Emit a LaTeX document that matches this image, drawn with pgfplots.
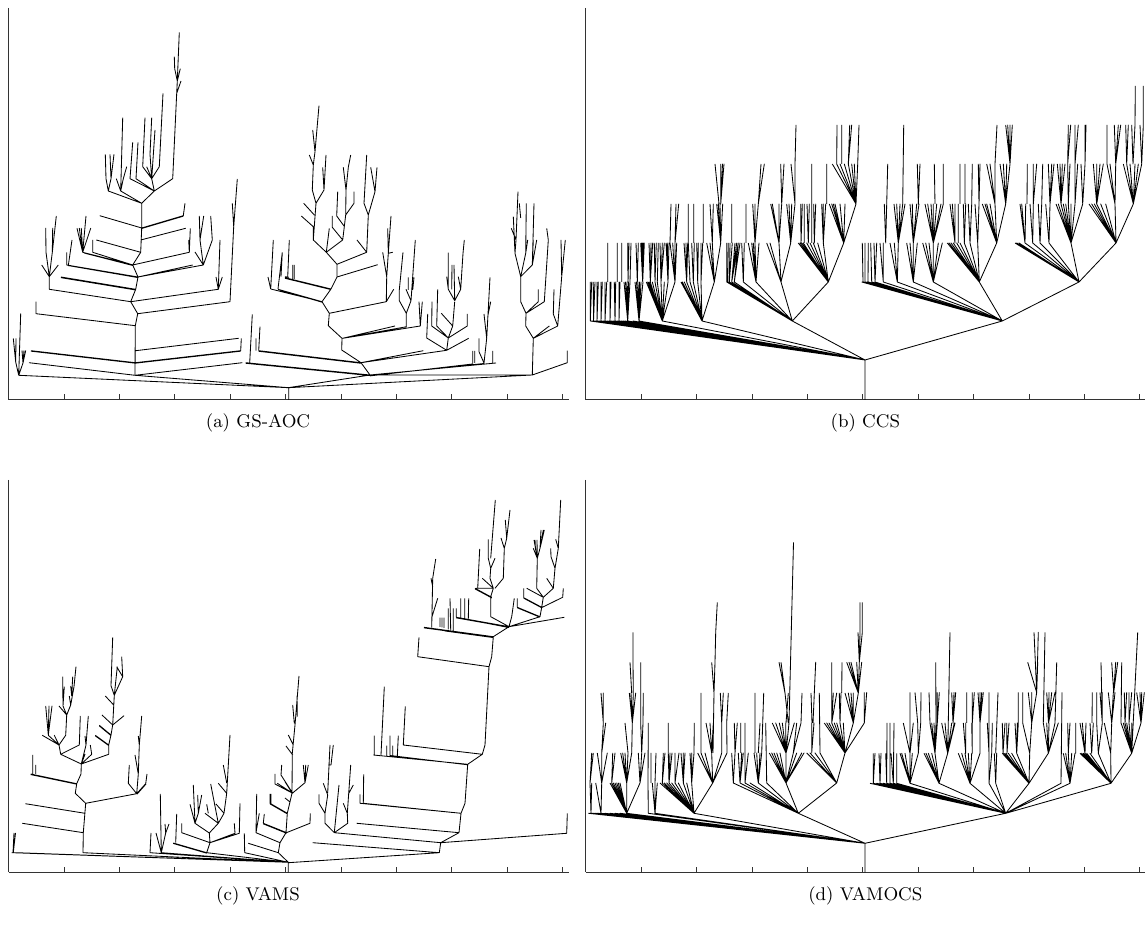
\documentclass[border=0pt]{standalone}
\usepackage{pgfplots}
\pgfplotsset{compat=1.18}
\def\D{}
\newcommand\Pl[1]{\xdef\D{\D #1(nan,nan)}}
\newcommand\F[4]{\foreach \t in {#4}{\xdef\D{\D(\t,#3)(#1,#2)}}\xdef\D{\D(nan,nan)}}
% ---------- (a) GS-AOC
\Pl{(288.7,400)(288.7,387.7)(18.7,375.3)}
\Pl{(288.7,387.7)(135,375.3)}
\Pl{(18.7,375.3)(15.7,362)(13.3,338.5)}\Pl{(15.7,362)(16,338.5)}\Pl{(18.7,375.3)(20.7,313.5)}
\Pl{(18.7,375.3)(23,363)(22,350.5)}\Pl{(23,363)(24,350.5)}\Pl{(23,363)(25.7,350.5)}
\Pl{(29,362.7)(135,375.3)(242.3,362.7)}\Pl{(31,350.7)(135.3,362.7)(240.7,350.7)(241.3,338.3)}
\Pl{(31,351.2)(135.3,363.2)(240.7,351.2)}
\Pl{(135.7,350.7)(238.7,338.3)}
\Pl{(135,375.3)(135.3,325.7)(137.7,313.7)(130.7,301.7)(135.7,289.3)(138,277)(132.7,265)(140.7,252.3)(141.7,228)(141.7,203.3)}
\Pl{(36,301.7)(36,313.7)(135.3,325.7)}
\Pl{(137.7,313.7)(230,301.7)(233.7,226.7)(232.3,203.3)}\Pl{(233.7,226.7)(237.3,179)}
\Pl{(130.7,301.7)(49.3,289.3)(49.3,276.7)(41.7,265)}\Pl{(49.3,276.7)(58.3,265)}
\Pl{(49.3,276.7)(46,252.3)(45.7,228)}\Pl{(49.3,276.7)(52.3,252.3)(56.3,216)}\Pl{(52.3,252.3)(52.7,228)}
\Pl{(130.7,301.7)(218.3,289.3)(216,277)}\Pl{(218.3,289.3)(222.3,277)}\Pl{(218.3,289.3)(220,240)}
\Pl{(135.7,289.3)(61,277)}\Pl{(135.7,290)(61,277.7)}
\Pl{(138,277)(66.7,265)(66.7,252.3)}\Pl{(138,277.6)(68.3,265.6)(72,240)}
\F{82.7}{252.3}{228.3}{77,79.3,81.3,90.7}\Pl{(82.7,252.3)(86,216)}
\Pl{(132.7,265)(82.7,252.3)}\Pl{(132.7,265)(92.7,252.3)(92.7,240)}\Pl{(132.7,265.5)(84,253)}
\Pl{(140.7,252.3)(96.3,240)}
\Pl{(138,277)(203.3,265)(195,252)}\Pl{(138,277)(192.7,265)}
\Pl{(203.3,265)(200,240)(199.3,216)}\Pl{(200,240)(203.7,216)}\Pl{(200,240)(201.7,228)}
\Pl{(203.3,265)(212.3,240)(210.7,216)}
\Pl{(132.7,265)(189.3,252.3)(190.3,228.3)}\Pl{(189.3,252.3)(188.7,240)}
\Pl{(140.7,240)(185.7,228.3)}
\Pl{(141.7,228)(183.3,215.7)(185,203.3)}\Pl{(141.7,228.5)(183.3,216.2)}
\Pl{(141.7,228)(99.7,215.7)}
\F{141.7}{203.3}{191}{108.3,120.7,154.3}
\Pl{(108.3,191)(106,178.7)(105.3,154.3)}\Pl{(108.3,191)(111,178.7)(114,154.3)}\Pl{(111,178.7)(110,154.3)}
\Pl{(120.7,191)(116.3,178.7)}\Pl{(120.7,191)(122.7,117.7)}\Pl{(120.7,191)(123.3,178.7)(126.7,166.7)}
\Pl{(154.3,191)(130,178.7)(132.7,142.3)}\Pl{(154.3,191)(136,178.7)(138,142.3)}
\Pl{(154.3,191)(151.7,178.7)(142.7,166.7)(145,117.7)}\Pl{(151.7,178.7)(146.7,166.7)}
\Pl{(151.7,178.7)(150,154.3)(151.7,117.7)}\Pl{(151.7,178.7)(155,130)}\Pl{(151.7,178.7)(159.3,166.7)(163,93.3)}
\Pl{(154.3,191)(172.7,178.7)(176.7,93.3)(181,81)}\Pl{(176.7,93.3)(177.3,81)(179.3,32.3)}
\Pl{(177.3,81)(174.7,68.7)(174.3,56.7)}\Pl{(177.3,81)(180.3,68.7)}
% right half of a
\Pl{(288.3,387.7)(370,375)(532.3,375)}\Pl{(288.3,387.7)(532.3,375)}
\Pl{(370,375)(245.7,362.7)}\Pl{(370,375.6)(245.7,363.3)}
\Pl{(361,362.7)(258.7,350.7)}\Pl{(361,363.3)(258.7,351.3)}
\Pl{(249.7,362.7)(252.3,314.3)}\Pl{(256,350.7)(256,338.3)}\Pl{(258.7,350.7)(260,326.7)}
\Pl{(270.7,289)(268,277)}\Pl{(270.7,289)(273.3,240)}\Pl{(278,289)(282.3,252.3)}
\Pl{(285,276.7)(289,277.3)}\Pl{(289.3,240)(287.7,277)}
\Pl{(270.7,289)(322,301.7)}\Pl{(278,289.3)(322,301.7)}\Pl{(280,290)(322,302.2)}
\Pl{(285,277.7)(331,289)}\Pl{(285,278.3)(331,289.6)}
\Pl{(292.7,279)(292.7,265)}\Pl{(294.2,279)(294.2,265)}\Pl{(282.3,252.3)(281,276.7)}
\Pl{(370,375)(361,362.7)(341.7,350)(342,338.3)(328.3,325.7)(329.3,313.3)(322,301.7)(331,289)(337,277)(337,264.3)(326.3,252.3)(313.3,240)(313.3,226.7)(301.3,216)}
\Pl{(314.3,215)(303.7,203.3)}\Pl{(313.3,240)(316,203.3)(324,190)(326,155)}\Pl{(324,190)(322.7,167.3)}
\Pl{(316,203.3)(312.3,190)(313.3,165)(309.3,155)}\Pl{(313.3,165)(315,151.7)(319,105.7)}\Pl{(315,151.7)(312.7,130)}
\Pl{(326.3,252.3)(329.3,228.3)}\Pl{(326.3,252.3)(342.7,240)(332.3,227.3)(332.3,216)}
\Pl{(342.7,240)(345.7,215)(354,203.3)(354,191.7)}\Pl{(345.7,215)(346,190)(343.3,167.3)}\Pl{(346,190)(348.3,167.3)(350.7,155)}
\Pl{(344,226)(336.7,216)(337.7,191.7)}
\Pl{(337,264.3)(366.7,252.3)(368.3,215)(364,203.3)(366.7,155)}\Pl{(368.3,215)(375,191.7)(370.7,167.3)}\Pl{(375,191.7)(377,167.3)}
\Pl{(366.7,252.3)(357,240)}\Pl{(337,277)(377.7,264.7)}
\Pl{(329.3,313.3)(386.3,301.7)(386.7,276.7)(382.7,252.3)}\Pl{(386.7,276.7)(388.3,253.3)(391,216)}\Pl{(388.3,253.3)(387.7,228.3)}
\Pl{(388.3,253.3)(392.7,252.3)}\Pl{(386.3,301.7)(393.7,289.3)}
\Pl{(342.7,338.3)(395,326)}\Pl{(342.7,338.3)(406.7,326.7)}\Pl{(342.7,338.3)(420.3,326)(422.3,301.7)}\Pl{(420.3,326)(419,301.7)}
\Pl{(406.3,326.7)(406.3,313.3)(399.3,300.7)(399.3,290)(403,252.3)}
\Pl{(406.3,313.3)(411,300.7)(415.3,240)}\Pl{(411,300.7)(406,289.3)}\Pl{(408.3,290)(408.3,277.3)}\Pl{(412.7,290)(414,277.3)}
\Pl{(361,362.7)(446.7,350.3)(468.7,338.3)}\Pl{(361,362.7)(423.3,350.7)}
\Pl{(446.7,350.3)(426.7,338)(427.7,314)}\Pl{(446.7,350.3)(448.3,338)}
\Pl{(448.3,338)(431.7,326)(432,301.7)}\Pl{(448.3,338)(436.7,326)(437.7,289.3)}
\Pl{(448.3,338)(452.7,326)(441.3,313.3)}\Pl{(452.7,326)(454.7,301.7)}
\Pl{(448.3,338)(467.3,326)(467.3,314)}
\Pl{(454.7,300.7)(448.3,289.3)(448.3,252.7)}\Pl{(451.7,289.3)(452,265)}\Pl{(454.7,300.7)(454,265)}
\Pl{(454.7,300.7)(460.7,289.3)(458.3,276.7)}\Pl{(460.7,289.3)(463,253.3)(464.3,240)}\Pl{(446.7,276.7)(448.3,289.3)}
\Pl{(370,375)(496,363)}\Pl{(370,375.5)(484,363.5)}\Pl{(370,375.9)(472.7,364)}
\Pl{(472.7,363.3)(472.7,351)}\Pl{(474.7,363)(474.7,351)}\Pl{(484,363)(479,351.7)(479,338.3)}
\Pl{(484,363)(486.7,338.3)(484,314)}\Pl{(486.7,338.3)(490,277.3)}\Pl{(488,315)(490.7,301.7)}\Pl{(492.7,363)(492.7,351)}
\Pl{(532.3,375)(567.3,362.7)(567.3,350.7)}\Pl{(532.3,375)(533.3,338.3)(549.3,326)}
\Pl{(533.3,338.3)(557.7,326)(553.3,314)(554,289.3)}\Pl{(557.7,326)(561.7,276.7)(561,240)}\Pl{(561.7,276.7)(565.3,240)}
\Pl{(533.3,338.3)(525.7,326)(526,313.3)(520.7,301.7)(520.7,276.7)(515,253.3)(516,240)(511.3,228.3)}
\Pl{(516,240)(518,191.7)}\Pl{(515,253.3)(513.3,216.7)}\Pl{(520.7,276.7)(525.7,253.3)(526.3,203.3)}\Pl{(525.7,253.3)(527.7,240)}
\Pl{(520.7,276.7)(532.3,265)(534,203.3)}\Pl{(532.3,265)(533.3,240)}\Pl{(532.3,265)(536.7,240)}\Pl{(520.7,218)(519.3,203.3)}
\Pl{(526,313.3)(544.3,301.7)(548.3,240)(546.7,228.3)}\Pl{(526,313.3)(538.3,301.7)(538.3,289.3)}
\let\Da\D \gdef\D{}
% ---------- (b) CCS
\Pl{(865,400)(865,360)}
\F{865}{360}{321}{590.3,592,593.5,595,597,599,601,603,605,607,609,611,613,615,617,619,621,623,625,627.7,633,639,662.3,702,792.3,1002.3}
\F{590.3}{321}{282}{590.3,591.7}\F{593.5}{321}{282}{593.3,595}\F{597}{321}{282}{597,598.3}\F{601}{321}{282}{601,602.3}
\F{605}{321}{282}{605,606.7}\F{610}{321}{282}{610,611}\F{615}{321}{282}{614.3,615.7}\F{619}{321}{282}{619,620}
\F{627.7}{321}{282}{624,625.5,627,628.5,630}\F{639}{321}{282}{635,636.5,638,639.5,641,643}
\F{607.7}{282}{243}{607.7}\F{617.3}{282}{243}{617.3}\F{621.7}{282}{243}{621.7}\F{628}{282}{243}{627.7,629}\F{630}{282}{243}{631}
\F{642.7}{282}{243}{640.7,641.7,642.7,643.7,644.3}\F{637.3}{282}{243}{636,638.3}
\F{662.3}{321}{282}{646.3,647.7,649,650.3,652.3,655,657.3,661,664.3,668,675}
\F{650.3}{282}{243}{649,651,652.7}\F{655}{282}{243}{654.3,656.3}\F{657.3}{282}{243}{658.3}\F{661}{282}{243}{660,662.3,664.3}
\F{668}{282}{243}{666,667.3,669}\F{675}{282}{243}{670,672.7,675,676.7}
\F{670}{243}{204}{671}\F{675}{243}{204}{676,678.7}
\F{702}{321}{282}{681,682.3,684.3,686.7,690,693.3,697.7,701,714.3}
\F{686.7}{282}{243}{684,686,687.7}\F{690}{282}{243}{688.3}\F{693.3}{282}{243}{691.7,694.3}\F{697.7}{282}{243}{696.7,698.3}
\F{701}{282}{243}{701,702.7}\F{714.3}{282}{243}{706.7,710,712.3,720.7}
\F{688.3}{243}{204}{688.3}\F{693.7}{243}{204}{693.7}\F{703.3}{243}{204}{703.3}\F{712.3}{243}{204}{710,713.3}
\F{720.7}{243}{204}{716.7,718.3,720,722.7}\F{719}{204}{164}{715}\F{720.7}{204}{164}{720.7,722.5,724}
\F{792.3}{321}{282}{726.7,727.7,729.3,731.7,734.3,743.3,756,781,828.3}
\F{726.7}{282}{243}{726.7}\F{727.7}{282}{243}{728.3}\F{729.3}{282}{243}{730,732.3}\F{731.7}{282}{243}{735,736.7,738.3}
\F{734.3}{282}{243}{738.3,740}\F{743.3}{282}{243}{741.7,744.3}\F{756}{282}{243}{748.3,751.7,753.3,755,759}
\F{781}{282}{243}{766.7,770,779,790.7}
\F{828.3}{282}{243}{798.3,800,801.7,803.3,806.7,810,813.3,817.7,823.3,843.7}
\F{731.7}{243}{204}{731.7}\F{746}{243}{204}{746}\F{755}{243}{204}{752.7,755,758.3}\F{779}{243}{204}{770.7,772.3,779,781.7}
\F{790.7}{243}{204}{786.7,789,791.7,795}\F{801}{243}{204}{800.7,802.3}\F{804.3}{243}{204}{804.3}\F{808.3}{243}{204}{807,809.3}
\F{814.3}{243}{204}{813.7,815.7}\F{823.3}{243}{204}{821.7,823.3,825.7}\F{843.7}{243}{204}{829.3,831.7,833.3,835,840,845,856}
\F{758.3}{204}{164}{761,764.3}\F{781.7}{204}{164}{780.7,784}\F{795}{204}{164}{791,795}\F{811.7}{243}{164}{811.7}\F{826.7}{204}{164}{826.7}
\F{856}{204}{164}{832.3,836.7,840,844.3,848.3,851.7,854.3,857.7}
\F{795}{164}{125}{796}\F{836.7}{164}{125}{837}\F{841.7}{164}{125}{841.7}\F{848.3}{164}{125}{849.7,851.7}\F{857.7}{164}{125}{859}
\F{1002.3}{321}{282}{861.7,863.3,865,866.7,868.3,871.7,875,883.3,897.3,913.3,933.3,979.3,1079}
\F{863}{282}{243}{862.3}\F{865}{282}{243}{865}\F{868}{282}{243}{868.3}\F{871.7}{282}{243}{870.7}\F{875}{282}{243}{874,876.7}
\F{883.3}{282}{243}{880,883.3}\F{897.3}{282}{243}{890,894.3,898.3}\F{913.3}{282}{243}{906.7,910,913.3,917.3}
\F{933.3}{282}{243}{922.7,925.7,929,933.3,938.3,942.3}
\F{979.3}{282}{243}{947.3,949,951,953.3,956.7,960,964.3,970,977.7,996.7}
\F{1079}{282}{243}{1015,1016.7,1019,1025,1032.7,1040,1049,1071,1116}
\F{885.7}{243}{204}{884.3,886.7}\F{898.3}{243}{204}{894,896.7,900,902.7,905}\F{913.3}{243}{204}{910,912.3,916.7,919}
\F{933.3}{243}{204}{925,927.7,931,933.3,936.7,941,943.3}\F{955}{243}{204}{950,952.3,955}\F{958.3}{243}{204}{958.3}
\F{964.3}{243}{204}{963.3,965.7}\F{970}{243}{204}{968.3,971.7}\F{977.7}{243}{204}{975,979}
\F{996.7}{243}{204}{982.3,985,986.7,990,995,1005.7}
\F{1025}{243}{204}{1020,1021.7,1025.7}\F{1032.7}{243}{204}{1030,1033.3}\F{1040}{243}{204}{1038.3,1041.7}\F{1049}{243}{204}{1045.7,1050}
\F{1071}{243}{204}{1056,1058.3,1061,1063.3,1065.7,1068.3,1071,1075,1082.7}
\F{1116}{243}{204}{1089,1091.7,1094.3,1096.7,1100.7,1105.7,1115,1133.3}
\F{886.7}{204}{164}{887.7}\F{902.7}{204}{125}{903.7}\F{918.3}{204}{164}{917.3,920}\F{935}{204}{164}{934.3}\F{943.3}{204}{164}{943.3}
\F{960}{204}{164}{960}\F{965}{204}{164}{965}\F{971.7}{204}{164}{972.3}\F{979}{204}{164}{978.3,980}
\F{995}{204}{164}{986.7,990,995}\F{1005.7}{204}{164}{1000,1003.3,1006.7,1010}\F{995}{164}{125}{997}\F{1010}{164}{125}{1005.7,1007.7,1010,1012.3}
\F{1027}{204}{164}{1027.3}\F{1033.3}{204}{164}{1033.3,1036.7}\F{1041.7}{204}{164}{1042.7}\F{1050}{204}{164}{1048.3,1051.7,1054}
\F{1061}{204}{164}{1057.3,1060,1062.3,1065}\F{1068.3}{204}{164}{1067.7,1070}\F{1075}{204}{164}{1075,1077.7}\F{1082.7}{204}{164}{1081,1085}
\F{1096.7}{204}{164}{1093.3,1096.7,1100,1103.3}\F{1115}{204}{164}{1107,1110,1115.7}
\F{1133.3}{204}{164}{1123.3,1126.7,1130,1135,1138.3,1141.7}
\F{1067.7}{164}{125}{1068.3,1070.7}\F{1075}{164}{125}{1075,1078.3}\F{1085}{164}{125}{1085,1086}\F{1107}{164}{125}{1107}
\F{1115.7}{164}{125}{1114.3,1118.3,1120.7}\F{1126.7}{164}{125}{1125.7,1128.3}\F{1133}{164}{125}{1131.7,1135}\F{1141.7}{164}{125}{1140,1143.3}
\F{1135}{125}{86}{1135.3}\F{1143.3}{125}{86}{1143.3}
\let\Db\D \gdef\D{}
% ---------- (c) VAMS
\Pl{(288.3,872.5)(288.3,862.3)}
\F{288.3}{862.3}{852.7}{11.7,13.3,16.7,83,150,161.3,206.7,244.7,278.3}
\Pl{(13,852.7)(14,833)}\Pl{(13.3,852.7)(15.5,833)}
\Pl{(83,852.7)(83.3,832.7)(85.7,803.3)(75.3,793.3)(76.7,783.7)(81,774)(81.3,764)}
\Pl{(83.3,832.7)(22.3,823.3)}\Pl{(85,813.3)(25.3,803.7)}
\Pl{(85.7,803.3)(136.7,793.7)(128.3,783.3)(129.3,765)}\Pl{(136.7,793.7)(138.3,774)(135,755)}\Pl{(138.3,774)(139.3,745)(141.7,716)}\Pl{(139.3,745)(138.3,736)}
\Pl{(136.7,793.7)(145.7,783.7)(147,774)}\Pl{(137.2,794)(146,784)}
\Pl{(76.7,783.7)(30.7,774)}\Pl{(76.7,784.2)(30.7,774.6)}\Pl{(32.7,774)(32.7,755)}\Pl{(35.7,774)(35.7,765)}
\F{81.3}{764}{754.3}{60.7,85,91.7,108.7}
\Pl{(81.3,764)(86,745)(85,736)}\Pl{(86,745)(88.3,716)}\Pl{(91.7,754.3)(90.3,745)}
\Pl{(60.7,754.3)(59,745)}\Pl{(60.7,754.3)(79.3,745)(80.3,716)}
\F{59}{745}{735.3}{42.3,54.3,48.3}\Pl{(59,745)(65.7,735.3)(66.7,715)}
\F{48.3}{735}{706}{45.7,49,52}
\Pl{(66.7,715)(59,706)}\Pl{(66.7,715)(70.7,705)(69.3,696)}\Pl{(70.7,705)(74,686.7)(76,666.7)}\Pl{(71.7,696)(72.7,676.7)}\Pl{(71.7,696)(70.7,686)}
\Pl{(66.7,715)(63,706)(62.7,676.7)}\Pl{(63,706)(64.3,686.7)}
\Pl{(108.7,754.3)(108.7,745)(111,735)(112.7,725)(114.3,695.3)}\Pl{(108.7,745)(95.3,735.3)}\Pl{(108.7,745.5)(95.3,735.9)}
\Pl{(111,735)(99.3,725.3)}\Pl{(111,735.6)(99.3,725.9)}\Pl{(112.7,725)(102,715)}\Pl{(112.7,725)(124,715.7)}\Pl{(113.7,705)(105.3,696)}
\Pl{(114.3,695.3)(111,685.7)(112.7,637.3)}\Pl{(114.3,695.3)(122.7,676.7)(121.7,656.7)}\Pl{(122.7,676.7)(116.7,666.7)}\Pl{(114.3,695.3)(117.3,666.7)}
\Pl{(150,852.7)(151,833)}\Pl{(161.3,852.7)(160.3,794)}\Pl{(161.3,852.7)(156,833)}\Pl{(161.3,852.7)(165.7,833)(165,824)}\Pl{(165.7,833)(169,824)}
\Pl{(206.7,852.7)(210,842.7)}\Pl{(206.7,852.7)(173.3,843)}\Pl{(206.7,853.2)(173.3,843.5)}\Pl{(175.7,842.7)(176.7,814)}
\Pl{(210,842.7)(181.7,832.7)(181.7,823.3)}
\Pl{(210,842.7)(209.3,833)(195,823.3)(190,804.3)}\Pl{(195,823.3)(193.3,785)}\Pl{(195,823.3)(198.3,813.3)(197.7,795)}\Pl{(198.3,813.3)(201.7,795)}
\Pl{(209.3,833)(218.3,823.3)(205,813.3)}\Pl{(218.3,823.3)(210.7,784)}\Pl{(218.3,823.3)(224,813.3)(216,804)}
\Pl{(224,813.3)(226.7,793.3)(218.3,783.3)}\Pl{(226.7,793.3)(230,735)}\Pl{(226.7,783)(223.3,765)}\Pl{(208.3,813.3)(206.7,804.3)}
\Pl{(210,842.7)(235,833.3)(234.3,823.3)}\Pl{(210,842.7)(239.3,833.3)(240,803.3)}
\Pl{(244.7,852.7)(244.3,833.3)}\Pl{(278.3,852.7)(248.3,843.3)}
\Pl{(278.3,852.7)(280,842.7)(286,832.7)(287.3,813.3)(292,793.3)(292.3,753.3)(295,725)(299,676)}
\Pl{(280,842.7)(256,832.7)(256.7,794)}\Pl{(256,832.7)(259.3,813.3)}
\Pl{(286.7,832.7)(263.3,823.3)(264.3,814)}\Pl{(286.7,833.3)(263.3,823.9)}
\Pl{(287.3,813.3)(270,803.3)(270,794)}\Pl{(287.3,813.9)(270,803.9)}\Pl{(271,804)(271,794)}
\Pl{(292.7,793.3)(275,784)(275,774)}\Pl{(292.7,793.3)(277.3,783.3)}
\Pl{(281.7,765)(281,775)(292.7,793.3)}\Pl{(286,746)(292.7,755)}\Pl{(288.3,735)(293.3,745)}
\Pl{(294.3,723.3)(292.7,705)}\Pl{(297.3,716.7)(297,696)}
\Pl{(292.3,793.3)(305,782.7)(303.3,765)}\Pl{(305,782.7)(305.7,765)}\Pl{(305,782.7)(308.3,765)}\Pl{(292.3,793.3)(285,781.7)}
\Pl{(290,802)(285,798)}
\Pl{(285,833.3)(310,823.3)(310.3,813.3)}
\Pl{(288.3,862.7)(439.3,852.7)(440.7,842.7)}\Pl{(439.3,852.7)(312.7,842.7)}
\Pl{(440.7,842.7)(334.3,832.7)}\Pl{(440.7,842.7)(566.7,833.3)(567.3,813.3)}\Pl{(440.7,842.7)(459,832.7)(356.7,823.3)}
\Pl{(459,832.7)(461,813.3)(360,803.3)(360,794.3)}\Pl{(461,813.3)(363.3,803.3)(363.7,774.3)}
\Pl{(334.3,832.7)(325,823.3)(325,813.3)(319,803.3)(319,794.3)}\Pl{(325,813.3)(327.7,795)(323.3,783.3)}\Pl{(327.7,793)(330,745)}
\Pl{(328.3,765)(331,765)(333.3,745)}\Pl{(334.3,832.7)(339,785)}
\Pl{(334.3,832.7)(347.7,823.3)(347.3,813.3)(343.3,803.3)}\Pl{(347.3,813.3)(350.7,765)}\Pl{(348.3,794.3)(353.3,785)}
\Pl{(461,813.3)(465,803.3)(467.7,764.3)(482.3,754.3)(403.3,745)(405.3,706.3)}
\Pl{(467.7,764.3)(373.3,755)}\Pl{(467.7,764.8)(390,755.5)}
\Pl{(374.3,755)(374.3,735.7)}\Pl{(381,755)(384.3,686.7)}\Pl{(386.7,755.6)(386.7,745.7)}\Pl{(390,756)(390,735.7)}\Pl{(392.7,756.2)(392.7,745.7)}\Pl{(397.3,756.7)(398.3,735.7)}
\Pl{(482.3,754.3)(485,745)(489,666.7)(491.7,656.7)(493.3,636.7)(509,626.7)}
\Pl{(489,666.7)(417.7,656.7)(419,637.3)}
\Pl{(493.3,636.7)(424,627.3)}\Pl{(493.3,637.2)(424,627.9)}\Pl{(493.3,637.6)(445,631)}
\Pl{(431.7,627.3)(432.7,578.3)(435.7,559)}\Pl{(432.7,586.7)(431,578.3)}\Pl{(432,616.7)(437.7,598.3)}
\Pl{(440,627)(440,617.7)}\Pl{(442,627.3)(442,617.7)}\Pl{(444,628)(444,617.7)}\Pl{(448.3,629.3)(448.3,608.3)}\Pl{(450.7,630)(450,598.3)}\Pl{(453.3,630.7)(453.3,608.3)}
\Pl{(509,626.7)(456.3,617.3)(456.3,608.3)}\Pl{(509,627.2)(456.3,617.9)}\Pl{(509,627.6)(470,620)}
\Pl{(460.7,617.8)(460.7,598.3)}\Pl{(464.7,618.6)(464.7,598.3)}\Pl{(468.3,619.2)(468.7,598.3)}
\Pl{(509,626.7)(511.7,616.7)(514.3,598.3)}\Pl{(509,626.7)(540,616.7)(541.7,607.3)(543.3,597.3)}\Pl{(509,626.7)(564.3,617.3)}
\Pl{(540,616.7)(517.3,607.3)(517.3,598.3)}\Pl{(540,617.2)(517.3,607.8)}
\Pl{(541.7,607.3)(523.7,597.7)(523.7,588.3)}\Pl{(541.7,607.8)(523.7,598.2)}
\Pl{(542.3,607.3)(562.7,597.3)(563.3,588.3)}\Pl{(543.3,597.3)(526.7,588.3)}
\Pl{(543.3,597.3)(536.7,588.3)(537.3,558.3)(533.3,548.3)}\Pl{(537.3,558.3)(534,540)}\Pl{(537.3,558.3)(537,540)}\Pl{(535.5,550)(535,540)}
\Pl{(537.3,558.3)(540,548.3)(541,530)}\Pl{(540,548.3)(543.3,530)}\Pl{(540,548.3)(544.3,530)}
\Pl{(543.3,597.3)(553.3,588.3)(546.7,578.3)}\Pl{(553.3,588.3)(555,568.3)(551,556.7)(550.7,548.3)}
\Pl{(555,568.3)(558.3,548.3)(555.7,539.3)}\Pl{(558.3,548.3)(560.7,500)}
\Pl{(509,626.7)(490.7,616.7)(490.7,596.7)(493.3,588.3)(476,588.3)}\Pl{(491.7,597.3)(475,588.3)}\Pl{(491.7,597.9)(475,588.9)}
\Pl{(477.7,588.3)(479.7,549)}\Pl{(493.3,588.3)(482.3,578.3)}
\Pl{(493.3,588.3)(490,578.3)(490.7,568.3)(488.3,558.3)(488.3,539.3)}\Pl{(490.7,568.3)(495,558.3)}\Pl{(490.7,558.3)(495.3,500)}
\Pl{(495,588.3)(503.3,578.3)(504.3,548.3)(501,538)}\Pl{(504.3,548.3)(506.7,538.3)(505.3,520)}\Pl{(506.7,538.3)(510,510)}
\let\Dc\D \gdef\D{}
% ---------- (d) VAMOCS
\Pl{(865,872.5)(865,843.3)}
\F{865}{843.3}{813.3}{588.3,590,591.7,593.3,595,596.7,598.3,601,605,610,615,620,626.7,648.3,655,694,798.3,1005.7}
\Pl{(591,813.3)(590,783)(591.7,753)}\Pl{(591,813.3)(591.7,783)}\Pl{(590,783)(593.3,753)}
\Pl{(601,813.3)(595.7,783)}\Pl{(601,813.3)(601.7,783)}\F{601.7}{783}{753}{597.3,601.7,607.3}
\F{601.7}{753}{723}{603.3,605.7}\F{603.3}{723}{693}{601,603.3}
\F{626.7}{813.3}{783}{610,611.7,613.3,615,616.7,618.3,620,626.7,640}
\F{611.7}{783}{753}{612.7,615}\F{626.7}{783}{753}{620.7,622.7,625,628,631.7}\Pl{(628,753)(625,723)}\Pl{(631.7,753)(632.3,723)}
\F{632.3}{723}{693}{629.3,631,633.3,635.7}\Pl{(631.7,693)(630,662.3)}\Pl{(633.3,693)(633,662.3)(633,632.3)}
\F{640}{783}{753}{638.3,641.7,645}\Pl{(641.7,753)(640.7,723)(640.7,662.3)}\Pl{(643,723)(643.3,693)}\Pl{(641.7,753)(643,723)}
\Pl{(648.3,813.3)(648,783)(648.3,723)}\Pl{(651,783)(651,753)}
\F{655}{813.3}{783}{652.3,655,657.3}\Pl{(655,783)(656,753)}
\F{694}{813.3}{783}{660,662.3,664.3,666.7,669,671.7,675,678.3,683.3,686.7,691.7,712.7}
\F{662.3}{783}{753}{663.3,665}\F{669}{783}{753}{668.3,670,672}\F{675}{783}{753}{675,679}\F{683.3}{783}{753}{681,683.3,685}
\F{691.7}{783}{753}{690,691.7,694}\Pl{(668.3,753)(668.3,723)}\Pl{(694,753)(694.3,723)}
\F{712.7}{783}{753}{697.7,701,705,711.7,721.7,727}
\Pl{(701,753)(701,693)}\F{711.7}{753}{723}{706,710,713.3}\Pl{(713,753)(714,693)(711.7,662.3)}\Pl{(714,693)(715,662.3)}
\Pl{(715,662.3)(715.7,632.3)(717.3,602.3)}\F{721.7}{753}{723}{721.7}\F{721.7}{723}{693}{720.3,723.3}\Pl{(727,753)(726.7,723)(728.3,693)}
\F{798.3}{813.3}{783}{733.3,740,745,750,758.3,766.7,786,836.7}
\F{733.3}{783}{753}{731.7,735}\F{735}{753}{723}{734.3,737.3}\F{740}{783}{753}{738.3,741.7,743.3}\Pl{(740.7,753)(740.7,723)}
\F{745}{783}{753}{745,748.3}\Pl{(745,753)(745,723)}\F{758.3}{783}{753}{754,756.7,760,761.7}\Pl{(758.3,753)(760,723)}
\Pl{(755,753)(755,693)}\Pl{(761.7,753)(763.7,693)}\Pl{(766.7,783)(765.7,723)}
\F{786}{783}{753}{769.3,771.7,774,776.7,780,786,793.3,796.7,801.7,804}
\F{786}{753}{723}{772.3,775.7,779.3,782.3,785.7,794.3}\Pl{(788.3,723)(785,693)(779,662.3)}\Pl{(785,693)(781,662.3)}\Pl{(786,723)(788.3,693)}
\Pl{(786,753)(789,723)(793.5,542.5)}
\F{793.3}{753}{723}{796.7,801}\Pl{(801,723)(802,693)}
\F{836.7}{783}{753}{806.7,810,815,820,845}\F{811.7}{753}{723}{811.7,814}\Pl{(812,723)(811,693)}\Pl{(813,723)(815.7,662)}\Pl{(820,753)(819.3,693)}
\F{845}{753}{723}{824.3,826.7,829,831.7,834.3,836.7,840,843.3,853.3,864.3}
\F{831.7}{723}{693}{831.7,833.3,836.7}\Pl{(831.7,693)(831.7,662.3)}\F{840}{723}{693}{839.3,841}\Pl{(841.7,693)(842,662.3)}
\F{853.3}{723}{693}{845,848.3,851,853.3,858.3}\F{858.3}{693}{662.3}{846.7,849,851,856.7,859.3,861.7}
\F{859.3}{662.3}{632.3}{858,860,862.3}\Pl{(862.3,632.3)(862.3,602.3)}\Pl{(860,632.3)(860,602.3)}
\F{864.3}{723}{692.5}{864.3,866.7}
\F{1005.7}{813.3}{783.3}{870,873.3,876.7,880,883.3,886.7,890,893.3,896.7,910,939,970,989,995.7,1029,1061,1070,1111}
\F{873.3}{783.3}{753.3}{873.3,875}\F{880}{783.3}{753.3}{879,881}\F{886.7}{783.3}{753.3}{885.7}\F{893.3}{783.3}{753.3}{891}\F{896.7}{783.3}{753.3}{896.7}
\Pl{(886.7,783.3)(887,723)}\Pl{(890,783.3)(890,723)}\Pl{(893.3,783.3)(894,723)}
\F{910}{783.3}{753.3}{900,901.7,905,910,912.3,918.3}\F{910}{753.3}{723}{903.3,910,913.3}\F{918.3}{753.3}{723}{917.7,920.7}
\Pl{(917.7,723)(915,692.5)}\Pl{(920.7,723)(921,692.5)}\Pl{(910,723)(910,692.5)}
\F{939}{783.3}{753.3}{924,926,928.3,931.7,935,947.7}\F{935}{753.3}{723}{930,931.7,934,936,937.3}
\Pl{(936,723)(935.7,662.3)}\Pl{(930,723)(929,692.5)}\F{937.3}{723}{692.5}{937.3,939.3}
\F{947.7}{753.3}{723}{941.7,945,948.3,951.7,954.3,955}\Pl{(947.7,753.3)(950,632.3)}\F{953}{723}{692.5}{951.7,954,955.7}
\F{970}{783.3}{753.3}{958.3,961.7,965,968.3,971.7,980}\F{965.7}{753.3}{723}{963.3,965.7}\Pl{(966.7,723)(966.7,692.5)}
\F{972.3}{753.3}{723}{971.7,972.3}\F{972.3}{723}{692.5}{972.3,974.3}\Pl{(980,753.3)(980,723)}\F{980}{723}{692.5}{978,980,981.7,983.3}
\Pl{(989,783.3)(989,753.3)}\F{989}{753.3}{723}{987.3,989}\Pl{(989,723)(989,692.5)}
\F{995.7}{783.3}{753.3}{994.3,996.7}\Pl{(989,783.3)(991.7,753.3)(992.3,723)}\Pl{(995.7,753.3)(998,692.5)}
\F{1029}{783.3}{753.3}{1002.3,1004,1005.7,1008.3,1011.7,1016.7,1029.7,1048.3}
\F{1003}{753.3}{723}{1002.3,1005}\F{1007}{753.3}{723}{1006.7,1009}\F{1016.7}{753.3}{723}{1015,1017.3}
\F{1029.7}{753.3}{723}{1022.7,1031.7}\Pl{(1022.7,723)(1022.7,692.5)}\Pl{(1018.3,723)(1018.3,692.5)}\Pl{(1016.7,753.3)(1018.3,723)}
\F{1048.3}{753.3}{723}{1043.3,1046.7,1049,1055,1058.3}
\F{1031.7}{723}{692.5}{1028.3,1031.7,1036.7}\F{1036.7}{692.5}{632.3}{1034,1038.3}\F{1036.7}{692.5}{662.3}{1027.7,1037.7}
\Pl{(1043.3,723)(1045,632.3)}\F{1048.5}{723}{692.5}{1046.7,1049,1051.7,1055}\Pl{(1055,723)(1056.7,662.3)}
\Pl{(1061,783.3)(1062,692.5)}
\F{1070}{783.3}{753.3}{1063.3,1065.7,1068.3,1071.7,1075}\F{1068.3}{753.3}{723}{1067.7,1070}\Pl{(1075.7,753.3)(1075.7,723)}
\F{1111}{783.3}{753.3}{1080,1081.7,1083.3,1085,1086.7,1090,1098.3,1110.7,1131.7}
\F{1085}{753.3}{723}{1080,1082.3,1086}\F{1091.7}{753.3}{723}{1090,1093.3}\F{1098.3}{753.3}{723}{1096.7,1102.3}
\F{1110.7}{753.3}{723}{1104.3,1111.7}\Pl{(1096.7,723)(1096.7,692.5)}\F{1102.3}{723}{692.5}{1100,1102.3}\Pl{(1102.3,723)(1101,662.3)}
\Pl{(1092,723)(1092.3,692.5)}\F{1111.7}{723}{692.5}{1108.3,1113.3,1115}\F{1113.7}{692.5}{662.3}{1111.7,1115.7,1117.7}
\Pl{(1131.7,753.3)(1137.7,632.3)}
\F{1131.7}{753.3}{723}{1121,1123.3,1125,1126.7,1129,1131.7,1141}
\Pl{(1121,723)(1121.7,662.3)}\F{1125}{723}{692.5}{1124.3,1126.7}\F{1129}{723}{692.5}{1129,1131.7}
\F{1141}{723}{692.5}{1136.7,1140,1141.7,1144.3}
\let\Dd\D
\pgfplotsset{
  tl/.style={black,line width=0.42pt,line join=round,mark=none},
  tree/.style={scale only axis,anchor=south west,clip=false,y dir=reverse,
    axis x line=bottom,axis y line=left,axis line style={-,black!80,line width=0.5pt},
    tick align=inside,major tick length=2.75pt,tick style={black!80,line width=0.4pt},
    ytick=\empty,xticklabels={},unbounded coords=jump,
    xlabel style={anchor=center,font=\fontsize{9.2}{11}\selectfont}},
}
\begin{document}
\begin{tikzpicture}[x=1pt,y=1pt]
\path[use as bounding box] (0,0) rectangle (573.5pt,462.5pt);
\begin{axis}[tree,at={(4.3pt,262.5pt)},width=280.05pt,height=196pt,xmin=8.6,xmax=568.7,ymin=8,ymax=400,
  xtick={64,119.4,174.8,230.2,285.6,341,396.4,451.8,507.2,562.6},
  xlabel={(a) GS-AOC},xlabel style={at={(axis description cs:0.4453,-0.0587)}}]
\edef\tmp{\noexpand\addplot[tl] coordinates {\Da};}\tmp
\end{axis}
\begin{axis}[tree,at={(292.85pt,262.5pt)},width=279.65pt,height=196pt,xmin=585.7,xmax=1145,ymin=8,ymax=400,
  xtick={641.1,696.5,751.9,807.3,862.7,918.1,973.5,1028.9,1084.3,1139.7},
  xlabel={(b) CCS},xlabel style={at={(axis description cs:0.5,-0.0587)}}]
\edef\tmp{\noexpand\addplot[tl] coordinates {\Db};}\tmp
\end{axis}
\begin{axis}[tree,at={(4.3pt,26.25pt)},width=280.05pt,height=196.25pt,xmin=8.6,xmax=568.7,ymin=480,ymax=872.5,
  xtick={64,119.4,174.8,230.2,285.6,341,396.4,451.8,507.2,562.6},
  xlabel={(c) VAMS},xlabel style={at={(axis description cs:0.4453,-0.0586)}}]
\edef\tmp{\noexpand\addplot[tl] coordinates {\Dc};}\tmp
\end{axis}
\begin{axis}[tree,at={(292.85pt,26.25pt)},width=279.65pt,height=196.25pt,xmin=585.7,xmax=1145,ymin=480,ymax=872.5,
  xtick={641.1,696.5,751.9,807.3,862.7,918.1,973.5,1028.9,1084.3,1139.7},
  xlabel={(d) VAMOCS},xlabel style={at={(axis description cs:0.5,-0.0586)}}]
\edef\tmp{\noexpand\addplot[tl] coordinates {\Dd};}\tmp
\end{axis}
\end{tikzpicture}
\end{document}
